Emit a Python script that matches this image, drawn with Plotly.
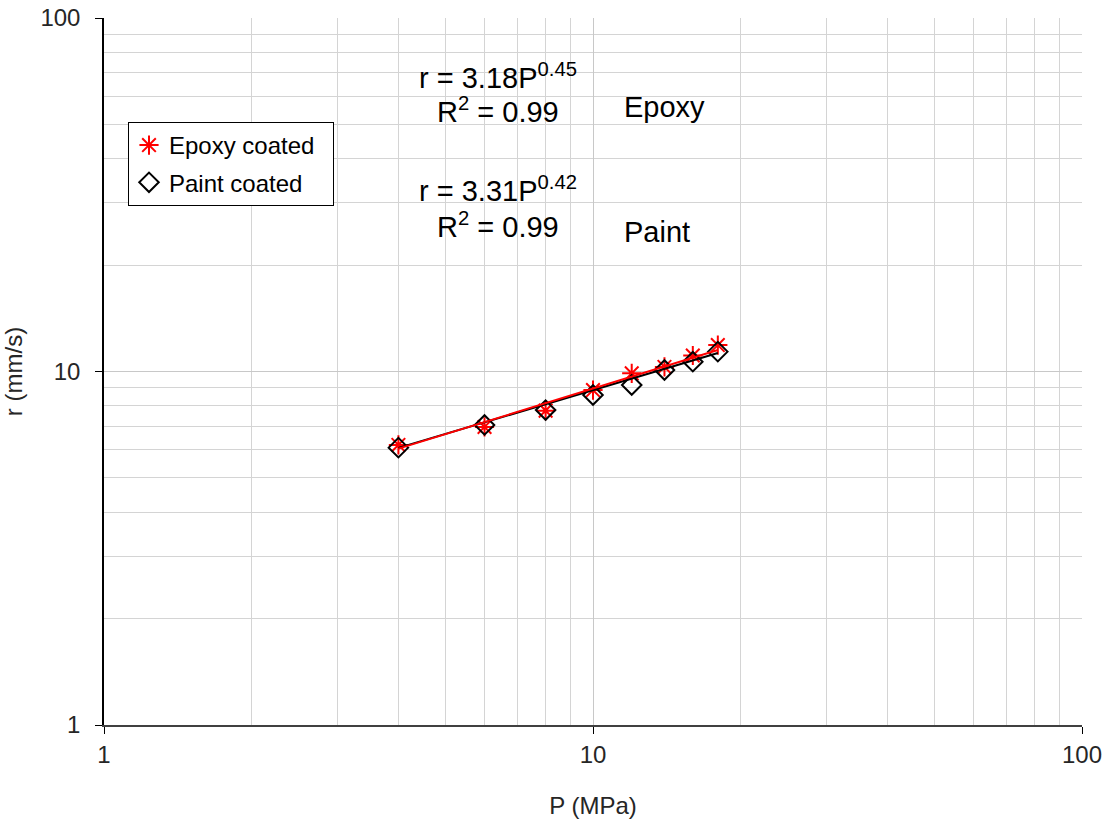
import plotly.graph_objects as go

# Data
pressure = [4, 6, 8, 10, 12, 14, 16, 18]
epoxy_r = [6.2, 6.97, 7.75, 8.86, 9.88, 10.3, 11.1, 11.88]
paint_r = [6.09, 7.06, 7.78, 8.58, 9.16, 10.1, 10.66, 11.38]

fit_P = [4, 18]
epoxy_fit_r = [6.05, 11.5]
paint_fit_r = [6.08, 11.28]

x_ticks = [1, 10, 100]
y_ticks = [1, 10, 100]

series_names = ["Epoxy coated", "Paint coated"]

FONT = "Arial, Liberation Sans, sans-serif"
NBSP = "\u00a0"

fig = go.Figure()

fig.add_trace(go.Scatter(
    x=pressure, y=epoxy_r, mode="markers", name=series_names[0] + NBSP * 2, legendgroup="e",
    marker=dict(symbol="asterisk-open", size=16, color="#ff0000",
                line=dict(color="#ff0000", width=2)),
))
fig.add_trace(go.Scatter(
    x=pressure, y=paint_r, mode="markers", name=series_names[1], legendgroup="p",
    marker=dict(symbol="diamond-open", size=15, color="#000000",
                line=dict(color="#000000", width=2)),
))
fig.add_trace(go.Scatter(
    x=fit_P, y=paint_fit_r, mode="lines", showlegend=False,
    line=dict(color="#000000", width=2),
))
fig.add_trace(go.Scatter(
    x=fit_P, y=epoxy_fit_r, mode="lines", showlegend=False,
    line=dict(color="#ff0000", width=2),
))

W, H = 1107, 821
PL, PT, PR, PB = 104, 18, 1082, 725  # plot-area edges in pixels
L, T, R, B = PL, PT, W - PR, H - PB
pw, ph = PR - PL, PB - PT


def px(xp):
    return (xp - PL) / pw


def py(yp):
    return (PB - yp) / ph


ann_font = dict(family=FONT, size=29, color="#000000")
annotations = [
    dict(text="r = 3.18P<sup>0.45</sup>", x=px(498), y=py(76), xanchor="center", yanchor="middle"),
    dict(text="R<sup>2</sup> = 0.99", x=px(498), y=py(110), xanchor="center", yanchor="middle"),
    dict(text="Epoxy", x=px(622), y=py(107), xanchor="left", yanchor="middle"),
    dict(text="r = 3.31P<sup>0.42</sup>", x=px(498), y=py(189), xanchor="center", yanchor="middle"),
    dict(text="R<sup>2</sup> = 0.99", x=px(498), y=py(225), xanchor="center", yanchor="middle"),
    dict(text="Paint", x=px(622), y=py(232), xanchor="left", yanchor="middle"),
]
for a in annotations:
    a.update(xref="paper", yref="paper", showarrow=False, font=ann_font)

axis_common = dict(
    type="log", range=[0, 2], automargin=False, ticklabeloverflow="allow",
    showgrid=True, gridcolor="#c8c8c8", gridwidth=1,
    minor=dict(dtick="D1", showgrid=True, gridcolor="#d4d4d4", gridwidth=1, ticks=""),
    ticks="outside", ticklen=7, tickcolor="#000000", tickwidth=1,
    showline=True, linewidth=1.5,
    tickfont=dict(family=FONT, size=24, color="#262626"),
    zeroline=False,
)

fig.update_layout(
    width=W, height=H,
    margin=dict(l=L, r=R, t=T, b=B, autoexpand=False),
    paper_bgcolor="white", plot_bgcolor="white",
    font=dict(family=FONT),
    xaxis=dict(**axis_common, linecolor="#404040", ticklabelstandoff=0,
               tickvals=x_ticks, ticktext=[str(v) for v in x_ticks],
               title=dict(text="P (MPa)", font=dict(family=FONT, size=24, color="#262626"), standoff=31)),
    yaxis=dict(**axis_common, linecolor="#000000", ticklabelstandoff=10,
               tickvals=y_ticks, ticktext=[str(v) for v in y_ticks],
               title=dict(text="r (mm/s)", font=dict(family=FONT, size=24, color="#262626"), standoff=15)),
    legend=dict(x=px(128), y=py(122), xanchor="left", yanchor="top",
                bgcolor="white", bordercolor="#000000", borderwidth=1,
                font=dict(family=FONT, size=24, color="#000000"),
                itemwidth=30, tracegroupgap=3),
    annotations=annotations,
    showlegend=True,
)

fig.write_html(
    "out.html",
    config={"displayModeBar": False},
    post_script="document.body.style.margin='0';document.body.style.overflow='hidden';",
)
